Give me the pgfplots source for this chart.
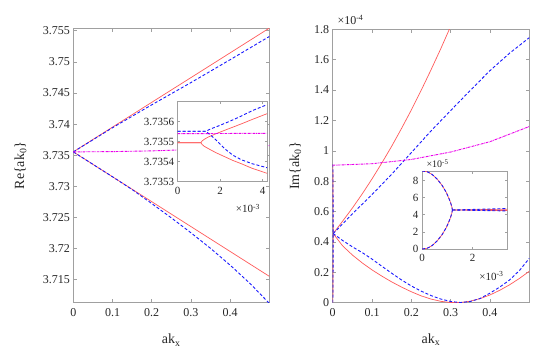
\documentclass[border=0pt]{standalone}
\usepackage{fontspec}
\setmainfont{Liberation Serif}
\usepackage{pgfplots}
\pgfplotsset{compat=1.18}

\definecolor{cred}{RGB}{255,90,90}
\definecolor{cblue}{RGB}{25,25,255}
\definecolor{cmag}{RGB}{235,0,235}
\definecolor{axgray}{RGB}{160,160,160}

\pgfplotsset{
  mat/.style={
    scale only axis,
    axis line style={draw=axgray, line width=0.8pt},
    tick style={draw=axgray, line width=0.6pt},
    major tick length=3.5pt,
    tick align=inside,
    axis background/.style={fill=white},
    ticklabel style={text=black!85, font=\rmfamily\fontsize{12}{12}\selectfont},
    xticklabel style={yshift=-2pt},
    every axis label/.append style={text=black!85, font=\rmfamily\fontsize{14}{14}\selectfont},
  },
  ins/.style={mat, ticklabel style={font=\rmfamily\fontsize{11}{11}\selectfont}, xticklabel style={yshift=0pt}, major tick length=2.5pt},
  rl/.style={draw=cred, line width=0.7pt},
  bl/.style={draw=cblue, line width=0.9pt, dash pattern=on 3pt off 2pt},
  ml/.style={draw=cmag, line width=0.9pt, dash pattern=on 2.5pt off 0.8pt on 0.6pt off 0.8pt},
}

\begin{document}
\begin{tikzpicture}
\useasboundingbox (0,0) rectangle (538pt,359pt);

% ---------- left: real part ----------
\begin{axis}[mat,
  at={(73.3pt,56.3pt)}, width=196pt, height=274.4pt,
  xmin=0, xmax=0.5, ymin=3.7113, ymax=3.7554,
  xtick={0,0.1,0.2,0.3,0.4}, xticklabels={0,0.1,0.2,0.3,0.4},
  ytick={3.715,3.72,3.725,3.73,3.735,3.74,3.745,3.75,3.755},
  yticklabels={3.715,3.72,3.725,3.73,3.735,3.74,3.745,3.75,3.755},
  xlabel={ak\textsubscript{x}}, ylabel={Re\{ak\textsubscript{0}\}},
  xlabel style={at={(axis description cs:0.5,-0.15)}, anchor=base},
  ylabel style={at={(axis description cs:-0.27,0.5)}, anchor=center},
]
\addplot[rl] coordinates {(0,3.73554) (0.1,3.73952) (0.2,3.74350) (0.3,3.74747) (0.4,3.75145) (0.5,3.75543)};
\addplot[rl] coordinates {(0,3.73554) (0.1,3.73154) (0.2,3.72754) (0.3,3.72354) (0.4,3.71954) (0.5,3.71554)};
\addplot[bl] coordinates {(0,3.73554) (0.1,3.73942) (0.2,3.74310) (0.3,3.74667) (0.4,3.75035) (0.5,3.75408)};
\addplot[bl] coordinates {(0,3.73554) (0.1,3.73154) (0.15,3.72949) (0.2,3.72724) (0.25,3.72494) (0.3,3.72254) (0.35,3.72004) (0.4,3.71734) (0.45,3.71444) (0.5,3.71120)};
\addplot[ml] coordinates {(0,3.73554) (0.1,3.73558) (0.2,3.73570) (0.3,3.73591) (0.4,3.73620) (0.5,3.73656)};
\end{axis}

% inset: x in 1e-3, y as (Re - 3.735) in 1e-4
\begin{axis}[ins,
  at={(177.7pt,177.3pt)}, width=89.3pt, height=80pt,
  xmin=0, xmax=4.2, ymin=3, ymax=7,
  xtick={0,2,4}, xticklabels={0,2,4},
  ytick={3,4,5,6}, yticklabels={3.7353,3.7354,3.7355,3.7356},
]
\addplot[rl] coordinates {(0,4.95) (1.09,4.95) (1.15,5.04) (1.25,5.12) (1.43,5.23) (1.8,5.40) (2.21,5.57) (2.6,5.73) (2.99,5.89) (3.5,6.11) (4.2,6.40)};
\addplot[rl] coordinates {(0,4.95) (1.09,4.95) (1.15,4.86) (1.25,4.77) (1.43,4.66) (1.8,4.45) (2.21,4.25) (2.6,4.06) (2.99,3.90) (3.5,3.67) (4.2,3.42)};
\addplot[bl] coordinates {(0,5.52) (1.35,5.52) (1.45,5.59) (1.6,5.66) (1.9,5.78) (2.4,6.00) (2.99,6.28) (3.5,6.55) (4.2,6.85)};
\addplot[bl] coordinates {(0,5.52) (1.35,5.52) (1.45,5.41) (1.6,5.28) (1.74,5.15) (2.21,4.65) (2.6,4.32) (2.99,4.10) (3.5,3.90) (4.2,3.70)};
\addplot[ml] coordinates {(0,5.400) (1,5.405) (2,5.410) (3,5.415) (4.2,5.420)};
\end{axis}
\node[anchor=base east, text=black!85, font=\fontsize{11}{11}\selectfont] at (263.5pt,146pt) {×10\textsuperscript{-3}};

% ---------- right: imaginary part (units 1e-4) ----------
\begin{axis}[mat,
  at={(332.7pt,56.3pt)}, width=196.6pt, height=273.4pt,
  xmin=0, xmax=0.5, ymin=0, ymax=1.8,
  xtick={0,0.1,0.2,0.3,0.4}, xticklabels={0,0.1,0.2,0.3,0.4},
  ytick={0,0.2,0.4,0.6,0.8,1,1.2,1.4,1.6,1.8},
  yticklabels={0,0.2,0.4,0.6,0.8,1,1.2,1.4,1.6,1.8},
  xlabel={ak\textsubscript{x}}, ylabel={Im\{ak\textsubscript{0}\}},
  xlabel style={at={(axis description cs:0.5,-0.15)}, anchor=base},
  ylabel style={at={(axis description cs:-0.19,0.5)}, anchor=center},
]
\addplot[rl] coordinates {(0,0.91) (0.0006,0.85) (0.001,0.64) (0.0012,0.455)};
\addplot[rl] coordinates {(0,0) (0.0006,0.06) (0.001,0.27) (0.0012,0.455)};
\addplot[rl] coordinates {(0.0012,0.455) (0.025,0.536) (0.05,0.623) (0.075,0.716) (0.1,0.815) (0.125,0.920) (0.15,1.030) (0.175,1.147) (0.2,1.269) (0.225,1.398) (0.25,1.533) (0.275,1.673) (0.3,1.820) (0.325,1.972)};
\addplot[rl] coordinates {(0.0012,0.455) (0.025,0.375) (0.05,0.314) (0.075,0.262) (0.1,0.216) (0.125,0.175) (0.15,0.137) (0.175,0.103) (0.2,0.072) (0.225,0.045) (0.25,0.024) (0.275,0.009) (0.3,0.001) (0.325,0.001) (0.35,0.010) (0.375,0.027) (0.4,0.051) (0.425,0.082) (0.45,0.118) (0.475,0.160) (0.5,0.207)};
\addplot[bl] coordinates {(0,0.91) (0.0006,0.85) (0.001,0.64) (0.0012,0.455)};
\addplot[bl] coordinates {(0,0) (0.0006,0.06) (0.001,0.27) (0.0012,0.455)};
\addplot[bl] coordinates {(0.0012,0.455) (0.05,0.585) (0.1,0.712) (0.15,0.846) (0.2,0.988) (0.25,1.131) (0.3,1.265) (0.35,1.398) (0.4,1.528) (0.45,1.643) (0.5,1.745)};
\addplot[bl] coordinates {(0.0012,0.455) (0.025,0.410) (0.05,0.368) (0.075,0.330) (0.1,0.287) (0.125,0.240) (0.15,0.194) (0.175,0.150) (0.2,0.110) (0.225,0.076) (0.25,0.047) (0.275,0.024) (0.3,0.008) (0.325,0.001) (0.35,0.008) (0.375,0.028) (0.4,0.063) (0.425,0.103) (0.45,0.150) (0.475,0.212) (0.5,0.292)};
\addplot[ml] coordinates {(0,0.905) (0.1,0.915) (0.2,0.943) (0.3,0.992) (0.4,1.060) (0.5,1.160)};
\end{axis}
\node[anchor=base west, text=black!85, font=\fontsize{12}{12}\selectfont] at (334pt,334pt) {×10\textsuperscript{-4}};

% inset: x in 1e-3, y in 1e-5
\begin{axis}[ins,
  at={(422pt,110pt)}, width=85.3pt, height=78pt,
  xmin=0, xmax=3.37, ymin=0, ymax=9.1,
  xtick={0,2}, xticklabels={0,2},
  ytick={0,2,4,6,8}, yticklabels={0,2,4,6,8},
]
\addplot[rl] coordinates {(0,9.10) (0.2,9.02) (0.4,8.70) (0.6,8.15) (0.8,7.40) (0.95,6.65) (1.05,6.00) (1.13,5.40) (1.18,4.90) (1.2,4.55)};
\addplot[rl] coordinates {(0,0) (0.2,0.08) (0.4,0.40) (0.6,0.95) (0.8,1.70) (0.95,2.45) (1.05,3.10) (1.13,3.70) (1.18,4.20) (1.2,4.55)};
\addplot[rl] coordinates {(1.2,4.55) (3.37,4.64)};
\addplot[rl] coordinates {(1.2,4.55) (3.37,4.48)};
\addplot[bl] coordinates {(0,9.10) (0.2,9.02) (0.4,8.70) (0.6,8.15) (0.8,7.40) (0.95,6.65) (1.05,6.00) (1.13,5.40) (1.18,4.90) (1.2,4.55)};
\addplot[bl] coordinates {(0,0) (0.2,0.08) (0.4,0.40) (0.6,0.95) (0.8,1.70) (0.95,2.45) (1.05,3.10) (1.13,3.70) (1.18,4.20) (1.2,4.55)};
\addplot[bl] coordinates {(1.2,4.55) (3.37,4.72)};
\addplot[bl] coordinates {(1.2,4.55) (3.37,4.44)};
\end{axis}
\node[anchor=base west, text=black!85, font=\fontsize{10}{10}\selectfont] at (423pt,191pt) {×10\textsuperscript{-5}};
\node[anchor=base east, text=black!85, font=\fontsize{11}{11}\selectfont] at (507pt,79pt) {×10\textsuperscript{-3}};
\end{tikzpicture}
\end{document}
